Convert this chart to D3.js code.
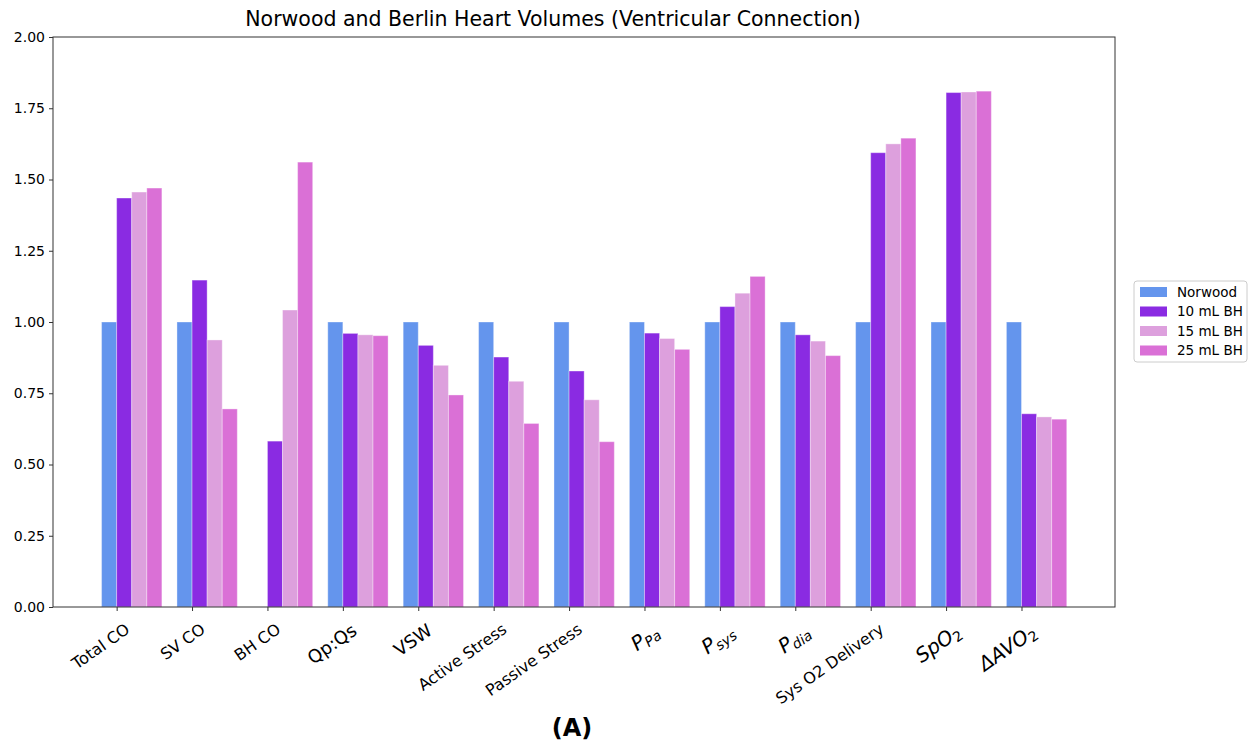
<!DOCTYPE html>
<html>
<head>
<meta charset="utf-8">
<script src="https://cdn.jsdelivr.net/npm/d3@7"></script>
<style>
  body { margin: 0; background: #fff; }
  text { font-family: "DejaVu Sans", sans-serif; }
</style>
</head>
<body>
<svg id="chart" width="1250" height="742"></svg>
<script>
// ---- data ----
const categories = ["Total CO", "SV CO", "BH CO", "Qp:Qs", "VSW", "Active Stress", "Passive Stress",
  "P_{Pa}", "P_{sys}", "P_{dia}", "Sys O2 Delivery", "SpO_{2}", "ΔAVO_{2}"];
const labelSizes = [16, 16, 16, 18, 18, 16, 16, 20, 20, 20, 16, 20, 20];
const seriesNames = ["Norwood", "10 mL BH", "15 mL BH", "25 mL BH"];
const seriesColors = ["#6495ED", "#8A2BE2", "#DDA0DD", "#DA70D6"];
const norwood = [1, 1, 0, 1, 1, 1, 1, 1, 1, 1, 1, 1, 1];
const bh10 = [1.435, 1.147, 0.582, 0.960, 0.918, 0.877, 0.828, 0.961, 1.054, 0.955, 1.594, 1.805, 0.678];
const bh15 = [1.456, 0.937, 1.042, 0.955, 0.848, 0.792, 0.727, 0.942, 1.101, 0.933, 1.625, 1.807, 0.667];
const bh25 = [1.470, 0.695, 1.561, 0.952, 0.744, 0.644, 0.580, 0.904, 1.160, 0.882, 1.645, 1.810, 0.659];
const yTicks = [0, 0.25, 0.5, 0.75, 1.0, 1.25, 1.5, 1.75, 2.0];
const title = "Norwood and Berlin Heart Volumes (Ventricular Connection)";
const panelLabel = "(A)";

const series = [norwood, bh10, bh15, bh25];
const barW = 0.2;

const svg = d3.select("#chart");
const L = 53, R = 1115, T = 37, B = 607;

const x = d3.scaleLinear().domain([-0.844, 13.24]).range([L, R]);
const y = d3.scaleLinear().domain([0, 2]).range([B, T]);

// bars
series.forEach((vals, k) => {
  svg.append("g").selectAll("rect").data(vals).join("rect")
    .attr("x", (d, i) => x(i - barW + k * barW))
    .attr("width", (d, i) => x(i + k * barW) - x(i - barW + k * barW))
    .attr("y", d => y(d))
    .attr("height", d => y(0) - y(d))
    .attr("fill", seriesColors[k])
    .attr("stroke", "rgba(255,255,255,0.35)")
    .attr("stroke-width", 1);
});

// frame
svg.append("rect").attr("x", L).attr("y", T).attr("width", R - L).attr("height", B - T)
  .attr("fill", "none").attr("stroke", "#333").attr("stroke-width", 1);

// y axis
const yAxis = d3.axisLeft(y).tickValues(yTicks).tickFormat(d3.format(".2f")).tickSizeOuter(0).tickSize(4).tickPadding(4);
const gy = svg.append("g").attr("transform", `translate(${L},0)`).call(yAxis);
gy.select(".domain").remove();
gy.selectAll("text").attr("font-size", 14).attr("fill", "#000").attr("font-family", "DejaVu Sans");
gy.selectAll("line").attr("stroke", "#333");

// x axis ticks
const xAxis = d3.axisBottom(x).tickValues(d3.range(categories.length)).tickFormat("").tickSize(4).tickSizeOuter(0);
const gx = svg.append("g").attr("transform", `translate(0,${B})`).call(xAxis);
gx.select(".domain").remove();
gx.selectAll("line").attr("stroke", "#333");

// x labels (rotated)
categories.forEach((c, i) => {
  const fs = labelSizes[i];
  const ax = x(i) + 6, ay = B + 13;
  const t = svg.append("text")
    .attr("transform", `translate(${ax},${ay}) rotate(-35)`)
    .attr("text-anchor", "end")
    .attr("dy", "0.9em")
    .attr("font-size", fs)
    .attr("fill", "#000");
  const m = c.match(/^(.*)_\{(.*)\}$/);
  if (m) {
    t.attr("font-style", "italic");
    t.append("tspan").text(m[1]);
    t.append("tspan").attr("font-size", fs * 0.7).attr("dy", "0.25em")
      .attr("font-style", /\d/.test(m[2]) ? "normal" : "italic").text(m[2]);
  } else {
    t.text(c);
  }
});

// title
svg.append("text").attr("x", 553).attr("y", 26).attr("text-anchor", "middle")
  .attr("font-size", 20.5).attr("fill", "#000").text(title);

// panel label
svg.append("text").attr("x", 572).attr("y", 736).attr("text-anchor", "middle")
  .attr("font-size", 24).attr("font-weight", "bold").attr("fill", "#000").text(panelLabel);

// legend
const lg = svg.append("g").attr("transform", "translate(1134,281)");
lg.append("rect").attr("width", 113).attr("height", 81).attr("rx", 3)
  .attr("fill", "#fff").attr("stroke", "#ccc");
seriesNames.forEach((n, k) => {
  const cy = 11 + k * 19.5;
  lg.append("rect").attr("x", 6).attr("y", cy - 5).attr("width", 27).attr("height", 10).attr("fill", seriesColors[k]);
  lg.append("text").attr("x", 43).attr("y", cy).attr("dy", "0.35em").attr("font-size", 13.5).attr("fill", "#000").text(n);
});
</script>
</body>
</html>
